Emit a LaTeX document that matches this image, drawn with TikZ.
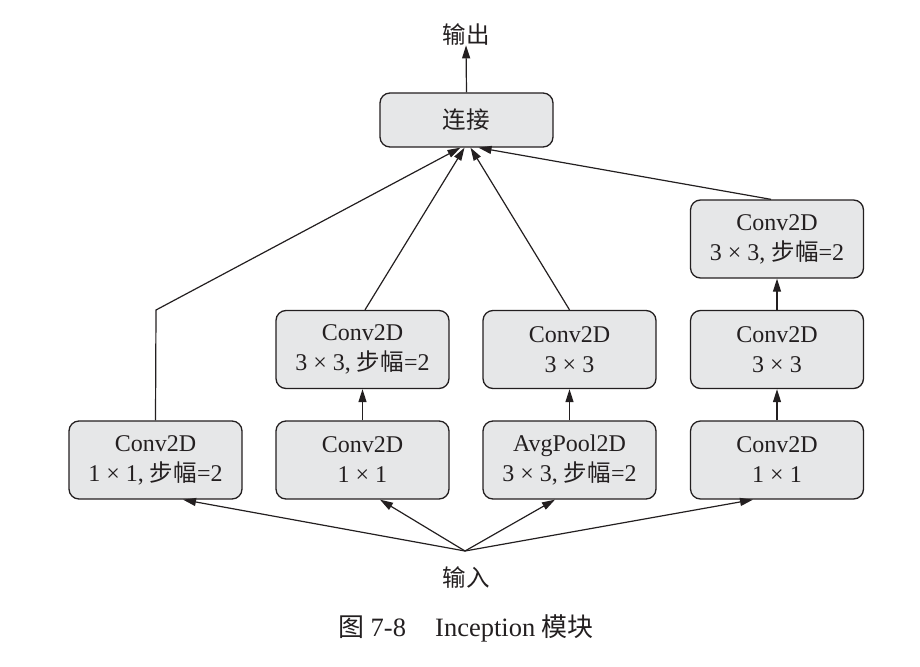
\documentclass[tikz,border=0pt]{standalone}
\usepackage{fontspec}
\setmainfont{Liberation Serif}
\newfontfamily\cjk[Scale=0.98]{Noto Sans CJK SC}
\usetikzlibrary{arrows.meta,calc}
\definecolor{boxfill}{HTML}{E6E7E8}
\definecolor{ink}{HTML}{231F20}
\begin{document}
\begin{tikzpicture}[x=1pt,y=-1pt,
  every node/.style={text=ink,font=\fontsize{24}{30}\selectfont},
  blk/.style={draw=ink,fill=boxfill,line width=1.3pt,rounded corners=10pt,
    minimum width=173pt,minimum height=78pt,align=center,inner sep=0pt},
  conn/.style={draw=ink,line width=1.2pt},
  arr/.style={conn,-{Triangle[length=13pt,width=8pt]}}]
\useasboundingbox (0,0) rectangle (920,666);
% boxes
\node[blk,minimum height=54pt] (cat) at (466.5,120) {\cjk 连接};
\node[blk] (b1) at (155.5,460) {Conv2D\\1 × 1, {\cjk 步幅}=2};
\node[blk] (b2) at (362.5,460) {Conv2D\\1 × 1};
\node[blk] (b3) at (569.5,460) {AvgPool2D\\3 × 3, {\cjk 步幅}=2};
\node[blk] (b4) at (777,460) {Conv2D\\1 × 1};
\node[blk] (m2) at (362.5,349.5) {Conv2D\\3 × 3, {\cjk 步幅}=2};
\node[blk] (m3) at (569.5,349.5) {Conv2D\\3 × 3};
\node[blk] (m4) at (777,349.5) {Conv2D\\3 × 3};
\node[blk] (t4) at (777,239) {Conv2D\\3 × 3, {\cjk 步幅}=2};
% labels
\node (out) at (466,35) {\cjk 输出};
\node (in) at (466,578) {\cjk 输入};
\node[font=\fontsize{26.5}{30}\selectfont] (cap) at (466,628) {{\cjk 图} 7-8\hspace{1.1em}Inception {\cjk 模块}};
% coordinates
\coordinate (src) at (465,551);
\coordinate (bend) at (156,310);
% output
\draw[arr] (cat.north) -- ($(out.south)+(0,-4)$);
% input arrows
\draw[arr] (src) -- ($(b1.south)+(27.5,0)$);
\draw[arr] (src) -- ($(b2.south)+(17.5,0)$);
\draw[arr] (src) -- ($(b3.south)+(-14.5,0)$);
\draw[arr] (src) -- ($(b4.south)+(-24,0)$);
% vertical arrows
\draw[arr] (b2.north) -- (m2.south);
\draw[arr] (b3.north) -- (m3.south);
\draw[arr] (b4.north) -- (m4.south);
\draw[arr] (m4.north) -- (t4.south);
% to concat
\draw[arr] (b1.north) -- (bend) -- ($(cat.south)+(-6,0)$);
\draw[arr] ($(m2.north)+(2.5,0)$) -- ($(cat.south)+(-2,0)$);
\draw[arr] (m3.north) -- ($(cat.south)+(4,0)$);
\draw[arr] ($(t4.north)+(-6,0)$) -- ($(cat.south)+(12,0)$);
\end{tikzpicture}
\end{document}
